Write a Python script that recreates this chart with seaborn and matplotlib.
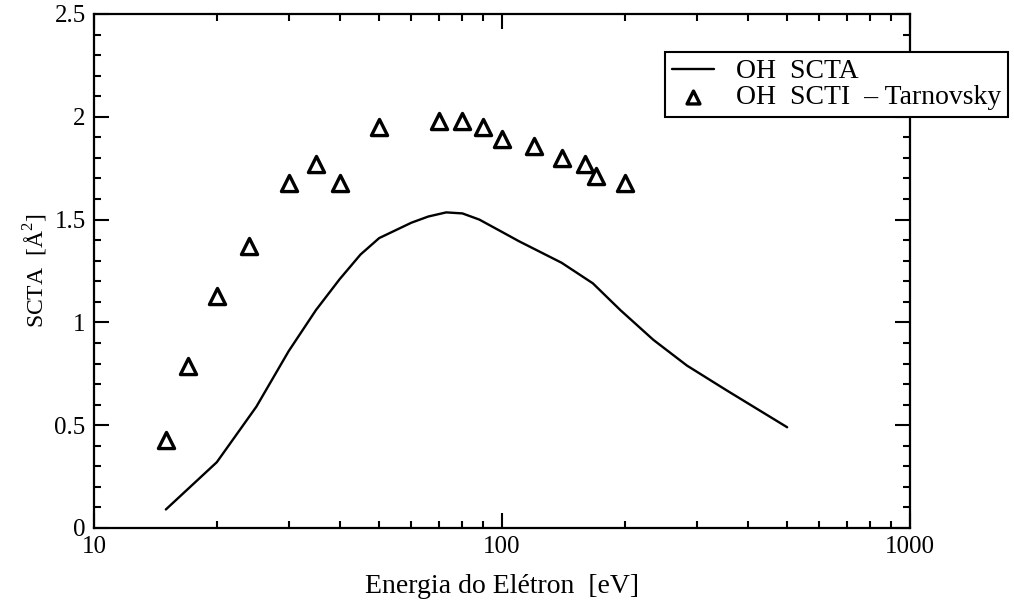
import matplotlib
matplotlib.use("Agg")
import matplotlib.pyplot as plt
import seaborn as sns
import numpy as np
import pandas as pd
from matplotlib.ticker import MultipleLocator, LogLocator, FixedLocator, NullFormatter

# Calculated total ionisation cross section (SCTA) for OH
energy_calc = [15, 20, 25, 30, 35, 40, 45, 50, 60, 66, 73, 80, 88, 100, 110, 140,
               167, 195, 235, 284, 355, 500]
scta_calc = [0.09, 0.32, 0.59, 0.86, 1.06, 1.21, 1.33, 1.41, 1.485, 1.515, 1.535,
             1.53, 1.50, 1.44, 1.395, 1.29, 1.19, 1.06, 0.915, 0.79, 0.67, 0.49]

# Experimental values (Tarnovsky)
energy_exp = [15, 17, 20, 24, 30, 35, 40, 50, 70, 80, 90, 100, 120, 140, 160, 170, 200]
scti_exp = [0.43, 0.79, 1.13, 1.37, 1.68, 1.77, 1.68, 1.95, 1.98, 1.98, 1.95,
            1.89, 1.86, 1.80, 1.77, 1.71, 1.68]

x_ticks = [10, 100, 1000]
x_ticklabels = ["10", "100", "1000"]

label_calc = "OH  SCTA"
label_exp = "OH  SCTI  \u2013 Tarnovsky"

sns.set_theme(style="white")
plt.rcParams["font.family"] = ["Liberation Serif", "DejaVu Serif"]
plt.rcParams["mathtext.fontset"] = "custom"
plt.rcParams["mathtext.rm"] = "Liberation Serif"
plt.rcParams["text.color"] = "black"
plt.rcParams["axes.labelcolor"] = "black"
plt.rcParams["xtick.color"] = "black"
plt.rcParams["ytick.color"] = "black"

fig = plt.figure(figsize=(10.14, 6.08), dpi=100)
ax = fig.add_axes([0.0927, 0.1316, 0.8047, 0.8454])

df_calc = pd.DataFrame({"E": energy_calc, "S": scta_calc})
df_exp = pd.DataFrame({"E": energy_exp, "S": scti_exp})

sns.lineplot(data=df_calc, x="E", y="S", ax=ax, color="black", linewidth=1.7,
             label=label_calc, sort=False)
sns.scatterplot(data=df_exp, x="E", y="S", ax=ax, marker="^", s=135,
                facecolor="white", edgecolor="black", linewidth=2.4,
                label=label_exp, zorder=3)

ax.set_xscale("log")
ax.set_xlim(10, 1000)
ax.set_ylim(0, 2.5)

ax.xaxis.set_major_locator(FixedLocator(x_ticks))
ax.xaxis.set_major_formatter(matplotlib.ticker.FixedFormatter(x_ticklabels))
ax.xaxis.set_minor_locator(LogLocator(base=10, subs=np.arange(2, 10)))
ax.xaxis.set_minor_formatter(NullFormatter())
ax.yaxis.set_major_locator(MultipleLocator(0.5))
ax.yaxis.set_minor_locator(MultipleLocator(0.1))
ax.yaxis.set_major_formatter(matplotlib.ticker.FuncFormatter(
    lambda v, p: f"{v:g}"))

ax.tick_params(which="both", direction="in", top=True, right=True,
               bottom=True, left=True, width=1.5, colors="black",
               labelsize=18)
ax.tick_params(which="major", length=11, pad=6)
ax.tick_params(which="minor", length=5)

for sp in ax.spines.values():
    sp.set_visible(True)
    sp.set_color("black")
    sp.set_linewidth(1.6)

ax.set_xlabel("Energia do Elétron  [eV]", fontsize=20, labelpad=11)
ax.set_ylabel("SCTA  [$\\mathrm{\\AA}^2$]", fontsize=17, labelpad=3)

leg = ax.legend(loc="upper left", bbox_to_anchor=(0.656, 0.9145),
                bbox_transform=fig.transFigure, borderaxespad=0,
                fontsize=20, frameon=True, fancybox=False, framealpha=1,
                edgecolor="black", handlelength=1.5, handletextpad=0.8,
                labelspacing=0.0, borderpad=0.25, markerscale=0.8)
leg.get_frame().set_linewidth(1.5)

fig.savefig("out.png", dpi=100, facecolor="white")
